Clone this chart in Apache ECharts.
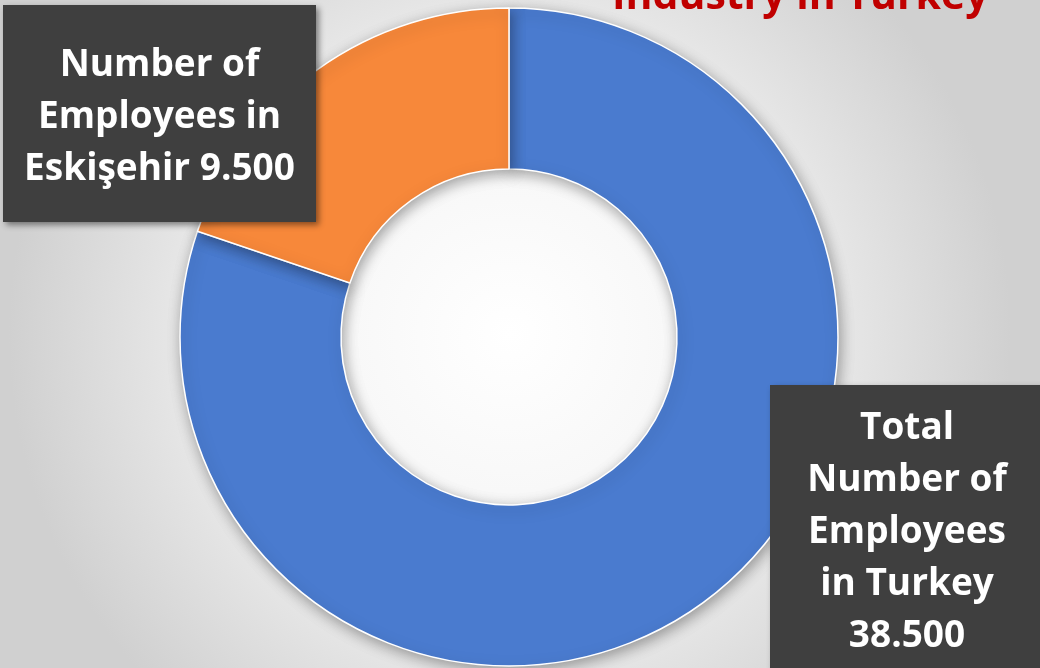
<!DOCTYPE html>
<html>
<head>
<meta charset="utf-8">
<script src="https://cdn.jsdelivr.net/npm/echarts@6/dist/echarts.min.js"></script>
<style>
html,body{margin:0;padding:0;width:1040px;height:668px;overflow:hidden;}
#chart{width:1040px;height:668px;}
</style>
</head>
<body>
<div id="chart"></div>
<script>
// ---- data ----
const titleText = 'Industry in Turkey';
const categories = ['Total\nNumber of\nEmployees\nin Turkey', 'Number of\nEmployees in\nEskişehir'];
const values = [38500, 9500];
const labelJoin = ['\n', ' '];
const colors = ['#4a7bcf', '#f7883a'];

function fmt(v) {
  return String(v).replace(/\B(?=(\d{3})+(?!\d))/g, '.');
}

const chart = echarts.init(document.getElementById('chart'), null, {renderer: 'canvas'});

const labelBoxes = [
  {x: 907, y: 385, width: 274, padding: [17, 0, 36, 0]},
  {x: 159.5, y: 5, width: 313, padding: [34, 0, 27, 0]}
];

chart.setOption({
  backgroundColor: {
    type: 'radial', x: 0.49, y: 0.5, r: 0.75,
    colorStops: [
      {offset: 0, color: '#ffffff'},
      {offset: 0.45, color: '#f5f5f5'},
      {offset: 1, color: '#d0d0d0'}
    ]
  },
  title: {
    text: titleText,
    left: 607,
    top: -28,
    textStyle: {
      color: '#c00000',
      fontFamily: 'Open Sans',
      fontWeight: 'bold',
      fontSize: 41
    }
  },
  series: [{
    type: 'pie',
    center: [509, 337],
    radius: [168, 329],
    startAngle: 90,
    clockwise: true,
    silent: true,
    animation: false,
    data: categories.map((c, i) => ({
      name: c,
      value: values[i],
      itemStyle: {color: colors[i]},
      label: {width: labelBoxes[i].width, padding: labelBoxes[i].padding, align: 'center'}
    })),
    itemStyle: {
      borderColor: '#ffffff',
      borderWidth: 1.5,
      shadowBlur: 14,
      shadowColor: 'rgba(0,0,0,0.35)',
      shadowOffsetX: 2,
      shadowOffsetY: 4
    },
    labelLine: {show: false},
    label: {
      show: true,
      position: 'outside',
      formatter: p => p.name + labelJoin[p.dataIndex] + fmt(p.value),
      color: '#ffffff',
      fontFamily: 'Open Sans',
      fontWeight: 'bold',
      fontSize: 37,
      lineHeight: 52,
      backgroundColor: '#3f3f3f',
      shadowBlur: 6,
      shadowColor: 'rgba(0,0,0,0.45)',
      shadowOffsetX: 3,
      shadowOffsetY: 3
    },
    labelLayout: function (params) {
      const b = labelBoxes[params.dataIndex];
      return {x: b.x, y: b.y, align: 'center', verticalAlign: 'top'};
    }
  }]
});
</script>
</body>
</html>
